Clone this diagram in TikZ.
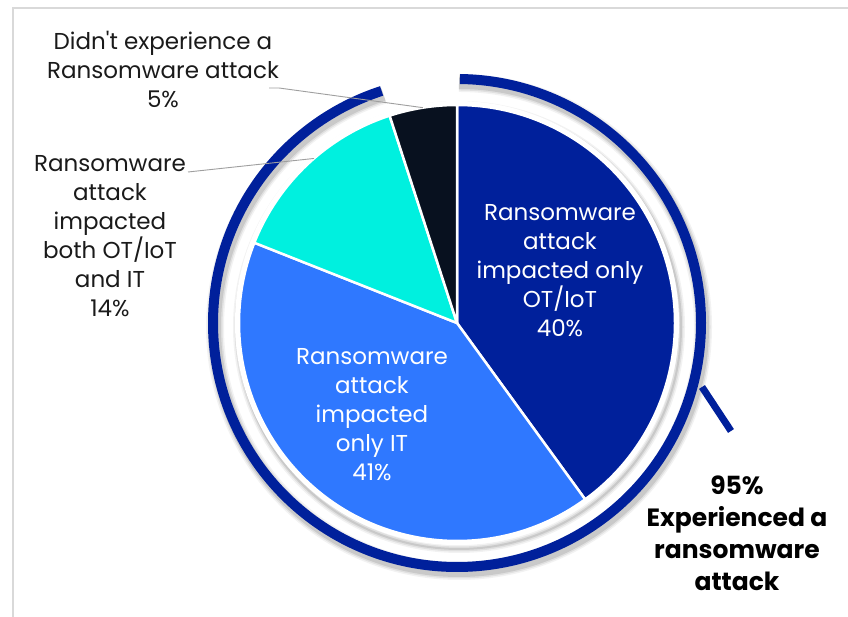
\documentclass[tikz,border=0pt]{standalone}
\usepackage{fontspec}
\setmainfont{Poppins}
\usetikzlibrary{calc}
\definecolor{navy}{HTML}{00209B}
\definecolor{skyblue}{HTML}{2F78FF}
\definecolor{aqua}{HTML}{00F0DF}
\definecolor{ink}{HTML}{08111F}
\definecolor{txtgray}{HTML}{1A1A1A}

\begin{document}
\begin{tikzpicture}[x=1pt,y=1pt,
  slice/.style={draw=white, line width=2.5pt, line join=round},
  lbl/.style={align=center, text=txtgray, font=\fontsize{23}{29}\selectfont},
  inlbl/.style={lbl, text=white},
  total/.style={align=center, text=black, font=\fontsize{25}{32}\selectfont\bfseries},
  leader/.style={draw=gray!75, line width=0.9pt},
  ring/.style={draw=navy, line width=10pt}]

\useasboundingbox (0,0) rectangle (848,617);
\fill[white] (0,0) rectangle (848,617);
\draw[gray!30, line width=1.2pt] (13,0) -- (13,609) -- (848,609);

% centre of the pie
\coordinate (c) at (457,294);

% soft shadows
\foreach \w/\o in {8/0.05,5/0.07,2/0.10}{
  \draw[black, opacity=\o, line width=10pt+\w pt]
    ($(c)+(2,-4)+(90:244)$) arc (90:-252:244);
  \draw[black, opacity=\o, line width=\w pt]
    ($(c)+(2,-4)$) circle (222);
}
\fill[white] (c) circle (222);

% define the slices
\filldraw[slice, fill=navy]    (c) -- ++(90:218)    arc (90:-54:218)     -- cycle;
\filldraw[slice, fill=skyblue] (c) -- ++(-54:218)   arc (-54:-201.6:218) -- cycle;
\filldraw[slice, fill=aqua]    (c) -- ++(158.4:218) arc (158.4:108:218)  -- cycle;
\filldraw[slice, fill=ink]     (c) -- ++(108:218)   arc (108:90:218)     -- cycle;

% the 95% ring and its tick
\draw[ring] ($(c)+(89.3:244)$) arc (89.3:-252:244);
\coordinate (tickA) at (702,230);
\coordinate (tickB) at (731,186);
\draw[navy, line width=7pt] (tickA) -- (tickB);

% define the labels
\node[lbl]   (lblNone)  at (163,548)
{Didn\textquotesingle t experience a\\Ransomware attack\\5\%};
\node[lbl]   (lblBoth)  at (110,381)
{Ransomware\\attack\\impacted\\both OT/IoT\\and IT\\14\%};
\node[inlbl] (lblOT)    at (560,346)
{Ransomware\\attack\\impacted only\\OT/IoT\\40\%};
\node[inlbl] (lblIT)    at (372,202)
{Ransomware\\attack\\impacted\\only IT\\41\%};
\node[total] (lblTotal) at (737,84)
{95\%\\Experienced a\\ransomware\\attack};

% define the leaders
\coordinate (noneFrom) at (269,529);
\coordinate (noneTo)   at ($(c)+(99:218)$);
\coordinate (bothFrom) at (188,445);
\coordinate (bothTo)   at ($(c)+(131:218)$);
\path[leader] (noneFrom) -- ++(10,0) -- (noneTo)
              (bothFrom) -- (bothTo);

\end{tikzpicture}
\end{document}
